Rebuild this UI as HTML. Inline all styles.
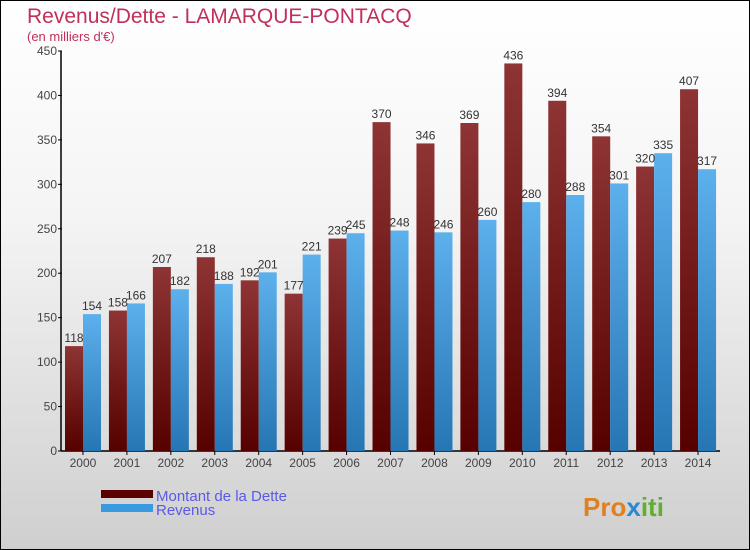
<!DOCTYPE html>
<html><head><meta charset="utf-8"><style>
body{margin:0;}
#wrap{width:750px;height:550px;position:relative;box-sizing:border-box;border:1px solid #000;background:linear-gradient(#ffffff,#f4f4f4 40%,#cfcfcf);overflow:hidden;font-family:"Liberation Sans",sans-serif;}
</style></head><body>
<div id="wrap">
<svg id="chart" width="750" height="550" style="position:absolute;left:0;top:0">
<defs>
<linearGradient id="gD" x1="0" y1="0" x2="0" y2="1"><stop offset="0" stop-color="#8e3434"/><stop offset="1" stop-color="#560000"/></linearGradient>
<linearGradient id="gR" x1="0" y1="0" x2="0" y2="1"><stop offset="0" stop-color="#5cb0ec"/><stop offset="1" stop-color="#2676b4"/></linearGradient>
</defs>
<text x="26" y="22" font-size="21" fill="#c0305a">Revenus/Dette - LAMARQUE-PONTACQ</text>
<text x="26" y="40" font-size="13" fill="#c0305a">(en milliers d'€)</text>
<g id="axes"></g>
<g id="bars"></g>
<g>
<rect x="100" y="489" width="52" height="8" fill="#5a0000"/>
<rect x="100" y="503" width="52" height="8" fill="#3a9ae0"/>
<text x="155" y="500" font-size="15" fill="#5a5ae8">Montant de la Dette</text>
<text x="155" y="514" font-size="15" fill="#5a5ae8">Revenus</text>
</g>
<text x="582" y="515" font-size="26" font-weight="bold" fill="#e08020">Pro<tspan fill="#2a8ad0">x</tspan><tspan fill="#60b030">iti</tspan></text>
</svg>
</div>
<script>
const years=["2000","2001","2002","2003","2004","2005","2006","2007","2008","2009","2010","2011","2012","2013","2014"];
const dette=[118,158,207,218,192,177,239,370,346,369,436,394,354,320,407];
const revenus=[154,166,182,188,201,221,245,248,246,260,280,288,301,335,317];
const yTicks=[0,50,100,150,200,250,300,350,400,450];
const NS="http://www.w3.org/2000/svg";
const x0=60,x1=719,yb=450,yt=50,ymax=450;
const gw=(x1-x0)/years.length;
const y=v=>yb-(v/ymax)*(yb-yt);
const gx=i=>x0+i*gw;
function mk(t,a,p){const e=document.createElementNS(NS,t);for(const k in a)e.setAttribute(k,a[k]);p.appendChild(e);return e;}
const ax=document.getElementById('axes'),bg=document.getElementById('bars');
const yl=mk('line',{x1:x0,y1:yt,x2:x0,y2:yb,stroke:'#000','stroke-width':1.5},ax);


const xl=mk('line',{x1:x0,y1:yb,x2:x1,y2:yb,stroke:'#000','stroke-width':1.5},ax);


yTicks.forEach(v=>{
 mk('line',{x1:x0-3,y1:y(v),x2:x0+1,y2:y(v),stroke:'#000'},ax);
 const t=mk('text',{x:x0-4,y:y(v)+4,'font-size':12,fill:'#444','text-anchor':'end'},ax);t.textContent=v;
 
 
});
years.forEach((yr,i)=>{
 const cx=gx(i)+gw/2;
 mk('line',{x1:cx,y1:yb,x2:cx,y2:yb+4,stroke:'#000'},ax);
 const t=mk('text',{x:cx,y:yb+16,'font-size':12,fill:'#444','text-anchor':'middle'},ax);t.textContent=yr;
 
 
 const bw=18,bx=gx(i)+4;
 const b1=mk('rect',{x:bx,y:y(dette[i]),width:bw,height:yb-y(dette[i]),fill:'url(#gD)'},bg);
 
 
 const b2=mk('rect',{x:bx+bw,y:y(revenus[i]),width:bw,height:yb-y(revenus[i]),fill:'url(#gR)'},bg);
 
 
 const l1=mk('text',{x:bx+bw/2,y:y(dette[i])-4,'font-size':12,fill:'#333','text-anchor':'middle'},bg);l1.textContent=dette[i];
 
 
 const l2=mk('text',{x:bx+bw*1.5,y:y(revenus[i])-4,'font-size':12,fill:'#333','text-anchor':'middle'},bg);l2.textContent=revenus[i];
 
 
});
</script>
</body></html>
